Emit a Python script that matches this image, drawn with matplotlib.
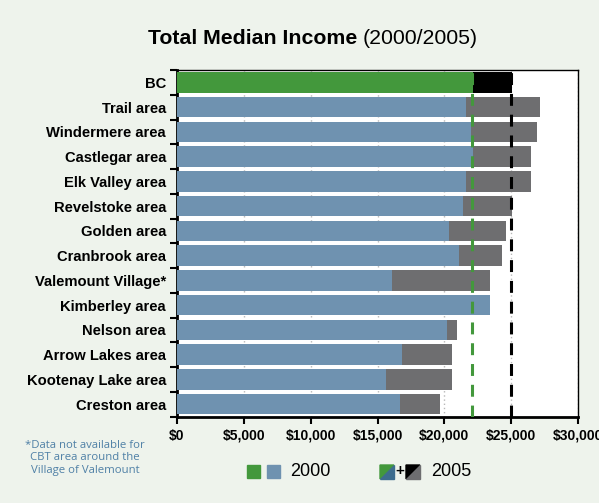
import numpy as np
import matplotlib
matplotlib.use('Agg')

import matplotlib.pyplot as plt
from matplotlib.patches import Polygon, Rectangle

# Median income by area, 2000 and 2005
areas = ['BC', 'Trail area', 'Windermere area', 'Castlegar area', 'Elk Valley area',
         'Revelstoke area', 'Golden area', 'Cranbrook area', 'Valemount Village*',
         'Kimberley area', 'Nelson area', 'Arrow Lakes area', 'Kootenay Lake area',
         'Creston area']
income_2000 = [22150, 21650, 22030, 22180, 21650, 21430, 20380, 21060, 16120,
               23450, 20230, 16870, 15670, 16650]
income_2005 = [25070, 27120, 26970, 26450, 26520, 25070, 24650, 24350, 23380,
               np.nan, 20980, 20540, 20540, 19700]
bc_2000 = 22050
bc_2005 = 25000
xticks = [0, 5000, 10000, 15000, 20000, 25000, 30000]

bg = '#eef3ec'
green = '#43983c'
blue = '#6f92b0'
gray = '#6e6e70'

plt.rcParams['font.family'] = ['Liberation Sans', 'DejaVu Sans']

fig = plt.figure(figsize=(5.99, 5.03), dpi=100, facecolor=bg)
ax = fig.add_axes([177 / 599, 1 - 416.5 / 503, 401 / 599, 346.5 / 503])
ax.set_facecolor('white')

y = np.arange(len(areas))
c2000 = [green] + [blue] * (len(areas) - 1)
c2005 = ['black'] + [gray] * (len(areas) - 1)

# 2005 bars behind, 2000 bars on top
ax.barh(y, income_2005, height=0.82, color=c2005, zorder=2)
ax.barh(y, income_2000, height=0.82, color=c2000, zorder=3)

# BC reference lines
ax.axvline(bc_2000, color=green, lw=2.2, ls=(0, (3.9, 2.9)), zorder=4)
ax.axvline(bc_2005, color='black', lw=2.2, ls=(0, (3.9, 2.9)), zorder=4)

ax.set_xlim(0, 30000)
ax.set_ylim(len(areas) - 0.5, -0.5)
ax.set_xticks(xticks)
ax.set_xticklabels(['${:,}'.format(v) for v in xticks], fontweight='bold', fontsize=10)
ax.set_yticks(y)
ax.set_yticklabels(areas, fontweight='bold', fontsize=10.6)
ax.set_yticks(np.arange(-0.5, len(areas)), minor=True)
ax.tick_params(axis='y', which='major', length=0, pad=8)
ax.tick_params(axis='y', which='minor', length=5, width=1.5, direction='out')
ax.tick_params(axis='x', length=5, width=1.5, direction='out', pad=4)
ax.xaxis.grid(True, ls=(0, (1, 2)), color='#b8b8b8', lw=1)
ax.set_axisbelow(True)

for side in ['left', 'bottom']:
    ax.spines[side].set_linewidth(2)
for side in ['top', 'right']:
    ax.spines[side].set_linewidth(1)

# title: bold part followed by the regular part
t1 = fig.text(148 / 599, 1 - 44 / 503, 'Total Median Income', fontsize=15.3,
              fontweight='bold', va='baseline')
fig.canvas.draw()
bb = t1.get_window_extent()
fig.text((bb.x1 + 5) / 599, 1 - 44 / 503, '(2000/2005)', fontsize=15.3, va='baseline')

# footnote
fig.text(85 / 599, 1 - 458 / 503,
         '*Data not available for\nCBT area around the\nVillage of Valemount',
         ha='center', va='center', fontsize=8.2, color='#4f80a6',
         family=['Open Sans', 'DejaVu Sans'], linespacing=1.2)

# legend drawn in pixel space
lg = fig.add_axes([0, 0, 1, 1], facecolor='none')
lg.set_xlim(0, 599)
lg.set_ylim(503, 0)
lg.axis('off')
lg.add_patch(Rectangle((247, 465), 13, 13, color=green))
lg.add_patch(Rectangle((267, 465), 13, 13, color=blue))
lg.text(290, 471.5, '2000', fontsize=13, va='center')
lg.add_patch(Polygon([(380, 465), (394, 465), (380, 479)], color=green))
lg.add_patch(Polygon([(394, 465), (394, 479), (380, 479)], color='#3d6c8e'))
lg.text(400, 471.5, '+', fontsize=11, fontweight='bold', va='center', ha='center')
lg.add_patch(Polygon([(406, 465), (420, 465), (406, 479)], color='black'))
lg.add_patch(Polygon([(420, 465), (420, 479), (406, 479)], color=gray))
lg.text(431, 471.5, '2005', fontsize=13, va='center')

fig.savefig('out.png', dpi=100, facecolor=bg)
